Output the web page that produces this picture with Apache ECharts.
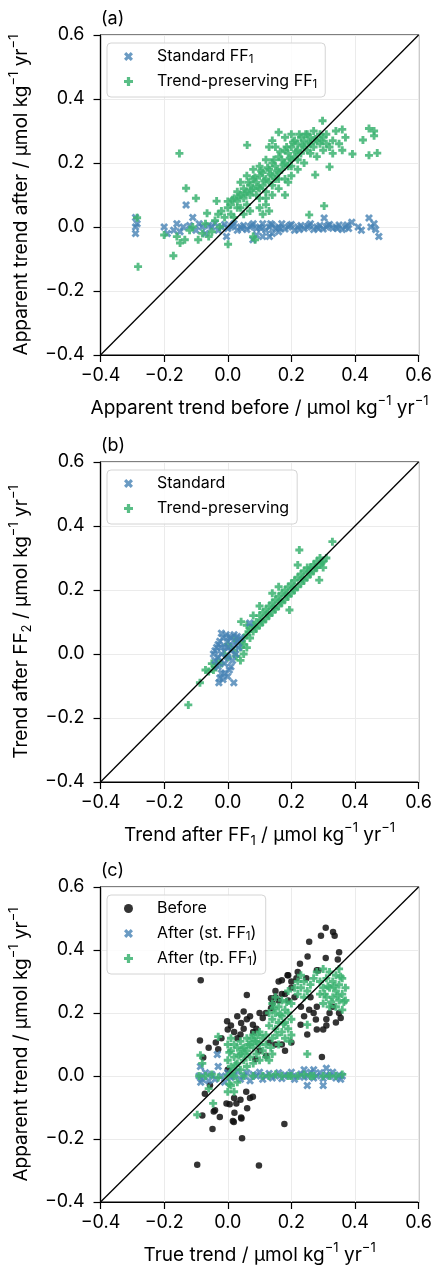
<!DOCTYPE html>
<html>
<head>
<meta charset="utf-8">
<script src="https://cdn.jsdelivr.net/npm/echarts@6/dist/echarts.min.js"></script>
<style>
html, body { margin: 0; padding: 0; background: #fff; }
#chart { width: 435px; height: 1269px; }
</style>
</head>
<body>
<div id="chart"></div>
<script>
// axis ticks shared by every panel
const tickValues = [-0.4, -0.2, 0.0, 0.2, 0.4, 0.6];
const panelLabels = ['(a)', '(b)', '(c)'];
const xNames = [
  'Apparent trend before / μmol kg{sup|−1} yr{sup|−1}',
  'Trend after FF{sub|1} / μmol kg{sup|−1} yr{sup|−1}',
  'True trend / μmol kg{sup|−1} yr{sup|−1}'
];
const yNames = [
  'Apparent trend after / μmol kg{sup|−1} yr{sup|−1}',
  'Trend after FF{sub|2} / μmol kg{sup|−1} yr{sup|−1}',
  'Apparent trend / μmol kg{sup|−1} yr{sup|−1}'
];

// (a) apparent trend before vs after FF1
const aStandard = [
  [-0.29, 0.03], [-0.29, 0.0], [-0.29, -0.02], [-0.285, 0.01],
  [-0.2, 0.0], [-0.19, -0.02], [-0.17, -0.01], [-0.16, 0.01], [-0.15, -0.015], [-0.14, 0.0],
  [-0.131, 0.069], [-0.11, 0.03], [-0.12, 0.005], [-0.1, -0.01], [-0.09, 0.01], [-0.08, 0.0],
  [-0.07, -0.02], [-0.06, 0.005], [-0.05, 0.0], [-0.04, 0.012], [-0.03, -0.01], [-0.02, 0.0],
  [-0.01, 0.008], [0.0, -0.005], [-0.004, -0.03], [0.01, 0.0], [0.02, 0.01], [0.03, -0.01],
  [0.04, 0.0], [0.05, 0.005], [0.06, -0.008], [0.07, 0.0], [0.079, -0.04], [0.08, 0.01],
  [0.09, -0.005], [0.09, -0.025], [0.1, 0.0], [0.11, 0.01], [0.11, -0.03], [0.12, -0.01],
  [0.131, -0.03], [0.13, 0.0], [0.14, 0.006], [0.14, -0.02], [0.15, -0.004], [0.16, 0.0],
  [0.16, -0.015], [0.17, 0.01], [0.18, -0.006], [0.19, 0.0], [0.2, 0.008], [0.21, -0.01],
  [0.22, 0.0], [0.23, 0.005], [0.24, -0.005], [0.25, 0.0], [0.26, 0.01], [0.27, -0.008],
  [0.28, 0.0], [0.29, 0.005], [0.3, -0.006], [0.303, 0.028], [0.31, 0.0], [0.32, 0.008],
  [0.33, -0.004], [0.34, 0.0], [0.35, 0.006], [0.36, -0.008], [0.37, 0.0], [0.38, -0.005],
  [0.39, 0.015], [0.41, 0.0], [0.42, -0.01], [0.444, 0.028], [0.45, 0.0], [0.46, 0.01],
  [0.465, -0.008], [0.475, -0.03], [0.015, 0.005], [0.045, -0.005], [0.075, 0.005],
  [0.105, -0.005], [0.135, 0.01], [0.165, -0.005], [0.195, 0.005], [0.225, -0.008],
  [0.255, 0.005], [0.285, -0.005], [0.315, 0.005], [0.345, -0.005], [0.375, 0.006]
];
const aTrendPreserving = [
  [-0.285, 0.029], [-0.282, -0.124], [-0.2, -0.025], [-0.171, -0.09], [-0.152, 0.23],
  [-0.131, 0.121], [-0.1, 0.09], [-0.15, -0.05], [-0.135, -0.04], [-0.093, -0.04],
  [-0.16, -0.03], [-0.12, -0.01], [-0.11, 0.0], [-0.08, -0.02], [-0.065, 0.043],
  [-0.035, 0.081], [-0.07, 0.01], [-0.06, -0.03], [-0.05, -0.015], [-0.04, 0.02],
  [-0.03, 0.04], [-0.02, 0.05], [-0.025, 0.0], [-0.01, 0.03], [0.001, -0.054], [0.0, 0.06],
  [0.01, 0.04], [0.02, 0.03], [0.03, 0.06], [0.08, -0.03], [0.086, -0.04], [0.256, 0.038],
  [0.303, 0.066], [0.061, 0.256],
  [0.0, 0.08], [0.01, 0.07], [0.02, 0.09], [0.03, 0.08], [0.03, 0.11], [0.04, 0.06],
  [0.04, 0.1], [0.05, 0.09], [0.05, 0.12], [0.06, 0.07], [0.06, 0.11], [0.07, 0.1],
  [0.07, 0.13], [0.08, 0.12], [0.08, 0.15], [0.09, 0.1], [0.09, 0.14], [0.1, 0.12],
  [0.1, 0.16], [0.11, 0.13], [0.11, 0.17], [0.12, 0.11], [0.12, 0.15], [0.13, 0.14],
  [0.13, 0.18], [0.14, 0.16], [0.14, 0.2], [0.15, 0.15], [0.15, 0.19], [0.16, 0.17],
  [0.16, 0.22], [0.17, 0.18], [0.17, 0.21], [0.18, 0.2], [0.18, 0.24], [0.19, 0.19],
  [0.19, 0.23], [0.2, 0.21], [0.2, 0.25], [0.21, 0.22], [0.21, 0.27], [0.22, 0.24],
  [0.22, 0.26], [0.23, 0.23], [0.23, 0.28], [0.24, 0.25], [0.24, 0.27], [0.25, 0.24],
  [0.25, 0.29], [0.26, 0.26], [0.26, 0.28], [0.27, 0.25], [0.27, 0.3], [0.28, 0.27],
  [0.28, 0.22], [0.29, 0.26], [0.29, 0.29], [0.3, 0.24], [0.3, 0.28], [0.31, 0.26],
  [0.32, 0.25], [0.33, 0.27], [0.34, 0.3], [0.298, 0.332], [0.36, 0.305], [0.35, 0.26],
  [0.37, 0.28], [0.16, 0.296], [0.14, 0.27], [0.18, 0.28], [0.2, 0.29], [0.12, 0.21],
  [0.1, 0.19], [0.08, 0.18], [0.06, 0.16], [0.04, 0.14], [0.13, 0.25], [0.15, 0.25],
  [0.275, 0.163], [0.32, 0.188], [0.392, 0.228], [0.425, 0.272], [0.444, 0.308],
  [0.46, 0.3], [0.46, 0.285], [0.47, 0.231], [0.444, 0.224], [0.36, 0.24],
  [0.05, 0.04], [0.07, 0.05], [0.1, 0.06], [0.12, 0.07], [0.14, 0.1], [0.13, 0.05],
  [0.11, 0.04], [0.16, 0.12], [0.18, 0.1], [0.19, 0.14], [0.2, 0.16], [0.22, 0.18], [0.24, 0.2],
  [0.015, 0.085], [0.035, 0.095], [0.055, 0.105], [0.075, 0.115], [0.095, 0.125],
  [0.115, 0.145], [0.135, 0.165], [0.155, 0.175], [0.175, 0.195], [0.195, 0.215],
  [0.215, 0.235], [0.235, 0.255], [0.255, 0.265], [0.275, 0.275], [0.295, 0.27],
  [0.065, 0.14], [0.085, 0.155], [0.105, 0.175], [0.125, 0.185], [0.145, 0.21],
  [0.165, 0.235], [0.185, 0.25], [0.205, 0.265], [0.225, 0.29], [0.245, 0.29],
  [0.1, 0.09], [0.12, 0.09], [0.14, 0.13], [0.16, 0.15], [0.18, 0.15], [0.2, 0.19],
  [0.22, 0.21], [0.26, 0.23], [0.31, 0.29], [0.33, 0.23]
];

// (b) trend after FF1 vs after FF2
const bStandard = [
  [-0.045, 0.0], [-0.04, -0.02], [-0.035, 0.02], [-0.03, 0.03], [-0.03, -0.04], [-0.025, 0.04],
  [-0.02, -0.06], [-0.02, 0.0], [-0.015, 0.05], [-0.01, -0.03], [-0.01, 0.02], [-0.005, 0.06],
  [0.0, -0.01], [0.0, 0.04], [0.005, -0.05], [0.01, 0.01], [0.01, 0.05], [0.015, -0.02],
  [0.02, 0.03], [0.02, 0.06], [0.025, 0.0], [0.03, 0.04], [0.035, 0.02], [-0.028, -0.09],
  [-0.025, -0.075], [-0.015, -0.08], [0.0, -0.07], [0.019, -0.09], [0.069, 0.097],
  [-0.04, 0.01], [-0.03, -0.01], [0.0, 0.02], [-0.02, 0.02], [0.01, -0.04], [-0.01, -0.06],
  [0.005, 0.055], [-0.02, 0.065], [0.03, 0.055], [0.04, 0.05]
];
const bTrendPreserving = [
  [-0.124, -0.159], [-0.0875, -0.09], [-0.07, -0.05], [-0.06, -0.055], [-0.05, -0.03],
  [-0.04, -0.04], [-0.03, -0.02], [-0.02, -0.03], [-0.01, 0.0], [0.0, -0.01], [0.01, 0.02],
  [0.02, 0.01], [0.027, -0.008], [0.03, 0.04], [0.04, 0.02], [0.042, 0.101], [0.05, 0.05],
  [0.05, 0.03], [0.06, 0.06], [0.06, 0.02], [0.07, 0.08], [0.07, 0.05], [0.08, 0.09],
  [0.08, 0.07], [0.09, 0.1], [0.09, 0.08], [0.1, 0.12], [0.1, 0.09], [0.11, 0.13],
  [0.11, 0.1], [0.12, 0.14], [0.12, 0.11], [0.13, 0.15], [0.13, 0.12], [0.14, 0.16],
  [0.14, 0.13], [0.15, 0.17], [0.15, 0.14], [0.16, 0.18], [0.16, 0.15], [0.17, 0.19],
  [0.17, 0.16], [0.18, 0.2], [0.18, 0.17], [0.19, 0.21], [0.19, 0.18], [0.194, 0.1375],
  [0.2, 0.22], [0.2, 0.19], [0.21, 0.23], [0.21, 0.2], [0.22, 0.24], [0.22, 0.21],
  [0.23, 0.25], [0.23, 0.22], [0.24, 0.26], [0.24, 0.23], [0.25, 0.27], [0.25, 0.24],
  [0.26, 0.27], [0.26, 0.25], [0.27, 0.28], [0.27, 0.26], [0.28, 0.29], [0.28, 0.27],
  [0.29, 0.3], [0.29, 0.28], [0.3, 0.29], [0.3, 0.27], [0.31, 0.3], [0.2875, 0.231],
  [0.329, 0.351], [0.225, 0.325], [0.22, 0.278], [0.1, 0.15], [0.08, 0.12], [0.06, 0.09],
  [0.14, 0.19], [0.16, 0.21], [0.02, 0.05], [0.0, 0.03], [0.05, 0.0], [0.04, -0.02],
  [0.105, 0.105], [0.125, 0.125], [0.145, 0.145], [0.165, 0.165], [0.185, 0.185],
  [0.205, 0.205], [0.235, 0.235], [0.255, 0.255], [0.275, 0.27], [0.295, 0.285],
  [0.065, 0.07], [0.085, 0.085], [0.045, 0.04], [-0.045, -0.05], [-0.035, -0.03]
];

// (c) true trend vs apparent trend
const cBefore = [
  [0.308, 0.471], [0.331, 0.457], [0.336, 0.445], [0.293, 0.445], [0.256, 0.426], [0.35, 0.393],
  [0.251, 0.379], [0.227, 0.356], [0.308, 0.375], [0.346, 0.37], [0.188, 0.32], [0.216, 0.31],
  [0.247, 0.31], [0.28, 0.336], [-0.085, 0.304], [0.06, 0.257], [0.2, 0.28], [0.17, 0.304],
  [0.19, 0.32], [0.285, 0.335], [0.136, 0.247], [0.05, 0.205], [-0.002, 0.174], [0.042, 0.168],
  [0.079, 0.163], [0.11, 0.184], [0.136, 0.215], [0.256, 0.21], [0.277, 0.179], [0.31, 0.18],
  [0.355, 0.184], [0.229, 0.163], [0.28, 0.148], [0.3, 0.148], [0.25, 0.132], [0.0, 0.148],
  [0.04, 0.132], [-0.0875, 0.113], [-0.0375, 0.106], [0.131, 0.106], [0.17, 0.1], [0.2, 0.106],
  [-0.03, 0.085], [-0.077, 0.059], [0.121, 0.064], [0.296, 0.06], [0.087, 0.053],
  [-0.056, -0.029], [0.058, -0.05], [0.079, -0.066], [-0.072, -0.056], [0.027, -0.087],
  [-0.004, -0.087], [-0.044, -0.1125], [0.021, -0.117], [0.042, -0.132], [0.016, -0.143],
  [0.178, -0.152], [-0.048, -0.168], [-0.04, -0.109], [-0.08, -0.125], [-0.025, -0.13],
  [0.006, -0.09], [0.061, -0.102], [0.043, -0.135], [0.019, -0.146], [0.045, -0.198],
  [-0.096, -0.282], [0.098, -0.284], [0.07, -0.07], [0.04, -0.075], [0.02, -0.07],
  [0.02, 0.14], [0.06, 0.18], [0.09, 0.15], [0.12, 0.2], [0.15, 0.27], [0.16, 0.3],
  [0.18, 0.26], [0.21, 0.25], [0.23, 0.22], [0.26, 0.25], [0.28, 0.22], [0.32, 0.2],
  [0.34, 0.17], [0.22, 0.33], [0.2, 0.3], [0.1, 0.2], [0.07, 0.19], [0.03, 0.12],
  [-0.02, 0.12], [-0.06, 0.09], [0.0, 0.02], [0.1, 0.08], [0.15, 0.1], [0.18, 0.08],
  [0.15, 0.25], [0.17, 0.26], [0.14, 0.23], [0.16, 0.24], [0.19, 0.24], [0.24, 0.19],
  [0.27, 0.2], [0.33, 0.22], [0.35, 0.2], [0.31, 0.16], [0.05, 0.15], [0.08, 0.14],
  [0.01, 0.16], [0.03, 0.19]
];
const cAfterSt = [
  [-0.09, 0.0], [-0.086, 0.03], [-0.08, -0.01], [-0.07, 0.01], [-0.06, -0.015], [-0.05, 0.005],
  [-0.04, -0.01], [-0.033, 0.068], [-0.03, 0.03], [-0.02, 0.0], [-0.01, -0.02], [0.0, 0.01],
  [0.01, -0.005], [0.02, 0.0], [0.03, 0.015], [0.04, -0.01], [0.05, 0.0], [0.06, 0.01],
  [0.07, -0.015], [0.08, 0.005], [0.09, 0.0], [0.1, 0.012], [0.11, -0.01], [0.12, 0.0],
  [0.13, 0.008], [0.14, -0.006], [0.15, 0.0], [0.16, 0.01], [0.17, -0.008], [0.18, 0.004],
  [0.19, 0.0], [0.2, 0.012], [0.21, -0.01], [0.22, 0.0], [0.23, 0.006], [0.24, -0.004],
  [0.25, 0.0], [0.25, -0.03], [0.26, 0.012], [0.27, -0.006], [0.28, 0.0], [0.29, 0.01],
  [0.3, -0.03], [0.3, -0.008], [0.31, 0.004], [0.32, 0.0], [0.33, 0.012], [0.34, -0.006],
  [0.35, 0.003], [0.36, 0.0], [0.355, -0.01], [-0.085, -0.02], [0.27, 0.02], [0.31, 0.025],
  [0.24, 0.02]
];
const cAfterTp = [
  [-0.09, 0.0], [-0.07, 0.0], [-0.05, 0.005], [-0.03, -0.005], [0.05, 0.0], [0.08, 0.0],
  [0.11, 0.0], [0.13, 0.0], [0.15, 0.005], [0.17, 0.0], [0.2, 0.0], [0.22, 0.0], [0.24, 0.005],
  [0.27, 0.0], [0.3, 0.0], [0.32, 0.0], [0.34, 0.0], [0.36, 0.005], [0.19, 0.0], [0.26, 0.0],
  [-0.086, 0.066], [-0.046, -0.087], [-0.096, -0.123], [0.25, 0.163], [0.25, 0.07],
  [-0.03, 0.125], [0.19, 0.27], [0.02, -0.05], [-0.06, -0.04], [-0.08, 0.04],
  [0.0, -0.05], [0.0, 0.0], [0.0, 0.05], [0.0, 0.1], [0.01, -0.03], [0.01, 0.03], [0.01, 0.08],
  [0.01, 0.12], [0.02, 0.0], [0.02, 0.06], [0.02, 0.1], [0.03, -0.02], [0.03, 0.04],
  [0.03, 0.09], [0.04, 0.02], [0.04, 0.07], [0.04, 0.11], [0.05, 0.05], [0.05, 0.09],
  [0.06, 0.03], [0.06, 0.08], [0.06, 0.12], [0.07, 0.06], [0.07, 0.1], [0.08, 0.04],
  [0.08, 0.09], [0.08, 0.13], [0.09, 0.07], [0.09, 0.11], [0.1, 0.05], [0.1, 0.1],
  [0.1, 0.14], [0.11, 0.08], [0.11, 0.12], [0.12, 0.1],
  [0.005, -0.025], [0.015, 0.015], [0.025, 0.035], [0.035, 0.065], [0.045, 0.085],
  [0.055, 0.07], [0.065, 0.1], [0.075, 0.12], [0.085, 0.11], [0.095, 0.13], [0.005, 0.075],
  [0.12, 0.13], [0.13, 0.16], [0.13, 0.2], [0.14, 0.12], [0.14, 0.18], [0.14, 0.23],
  [0.15, 0.15], [0.15, 0.2], [0.15, 0.25], [0.16, 0.1], [0.16, 0.17], [0.16, 0.22],
  [0.17, 0.14], [0.17, 0.19], [0.17, 0.24], [0.18, 0.12], [0.18, 0.17], [0.18, 0.21],
  [0.19, 0.15], [0.19, 0.2], [0.2, 0.13], [0.2, 0.18], [0.2, 0.23], [0.14, 0.07],
  [0.13, 0.05], [0.12, 0.06], [0.135, 0.09], [0.155, 0.13], [0.175, 0.165], [0.195, 0.11],
  [0.145, 0.215], [0.165, 0.195], [0.185, 0.235],
  [0.21, 0.28], [0.22, 0.3], [0.22, 0.26], [0.23, 0.32], [0.23, 0.28], [0.24, 0.25],
  [0.24, 0.3], [0.25, 0.27], [0.26, 0.29], [0.27, 0.31], [0.28, 0.33], [0.29, 0.3],
  [0.29, 0.26], [0.3, 0.34], [0.3, 0.28], [0.3, 0.23], [0.31, 0.31], [0.31, 0.25],
  [0.32, 0.33], [0.32, 0.28], [0.32, 0.22], [0.33, 0.3], [0.33, 0.25], [0.34, 0.32],
  [0.34, 0.27], [0.34, 0.22], [0.35, 0.29], [0.35, 0.24], [0.36, 0.31], [0.36, 0.26],
  [0.36, 0.21], [0.37, 0.28], [0.37, 0.24], [0.35, 0.34], [0.315, 0.285], [0.345, 0.255],
  [0.355, 0.315], [0.325, 0.235], [0.305, 0.26], [0.335, 0.285], [0.365, 0.235]
];

var chartDom = document.getElementById('chart');
var myChart = echarts.init(chartDom, null, { renderer: 'canvas', devicePixelRatio: 1 });

const FONT = 'Inter, "DejaVu Sans", sans-serif';
const gridTops = [35, 462, 887];
const axisMin = tickValues[0];
const axisMax = tickValues[tickValues.length - 1];

// matplotlib-like filled markers
const crossSymbol = 'path://M0,2.5L2.5,0L5,2.5L7.5,0L10,2.5L7.5,5L10,7.5L7.5,10L5,7.5L2.5,10L0,7.5L2.5,5Z';
const plusSymbol = 'path://M3.2,0H6.8V3.2H10V6.8H6.8V10H3.2V6.8H0V3.2H3.2Z';
const blue = '#4682b4';
const green = '#3cb371';

const nameRich = {
  sup: { fontSize: 13, fontFamily: FONT, color: '#000', verticalAlign: 'top', lineHeight: 26 },
  sub: { fontSize: 13, fontFamily: FONT, color: '#000', verticalAlign: 'bottom', lineHeight: 26 }
};
const nameStyle = { fontSize: 19, fontFamily: FONT, color: '#000', lineHeight: 22, rich: nameRich };
const fmt = v => (Math.abs(v) < 1e-9 ? 0 : v).toFixed(1).replace('-', '−');

function makeAxis(i, isX) {
  return {
    type: 'value',
    gridIndex: i,
    min: axisMin,
    max: axisMax,
    interval: 0.2,
    name: isX ? xNames[i] : yNames[i],
    nameLocation: 'middle',
    nameGap: isX ? 40 : 66,
    nameTextStyle: nameStyle,
    axisLine: { show: true, onZero: false, lineStyle: { color: '#000', width: 1.2 } },
    axisTick: { show: true, length: 7, lineStyle: { color: '#000', width: 1.2 } },
    axisLabel: { margin: isX ? 12 : 16, fontSize: 18, fontFamily: FONT, color: '#000', formatter: fmt },
    splitLine: { show: true, lineStyle: { color: '#ebebeb', width: 1 } }
  };
}

function scatter(name, data, i, kind, z) {
  const s = {
    name: name, type: 'scatter', xAxisIndex: i, yAxisIndex: i, data: data, z: z,
    silent: true, animation: false
  };
  if (kind === 'std') {
    s.symbol = crossSymbol; s.symbolSize = 8;
    s.itemStyle = { color: blue, opacity: 0.8 };
  } else if (kind === 'tp') {
    s.symbol = plusSymbol; s.symbolSize = 8;
    s.itemStyle = { color: green, opacity: 0.85 };
  } else {
    s.symbol = 'circle'; s.symbolSize = 6.5;
    s.itemStyle = { color: '#111', opacity: 0.85 };
  }
  return s;
}

function diagonal(i) {
  return {
    type: 'line', xAxisIndex: i, yAxisIndex: i, z: 10, silent: true, animation: false,
    showSymbol: false, symbol: 'none',
    data: [[axisMin, axisMin], [axisMax, axisMax]],
    lineStyle: { color: '#000', width: 1.3 }
  };
}

const legendNames = [
  ['Standard FF₁', 'Trend-preserving FF₁'],
  ['Standard', 'Trend-preserving'],
  ['Before', 'After (st. FF₁)', 'After (tp. FF₁)']
];

var option;
option = {
  backgroundColor: '#fff',
  animation: false,
  title: panelLabels.map((t, i) => ({
    text: t, left: 101, top: gridTops[i] - 25, padding: 0,
    textStyle: { fontSize: 18, fontWeight: 'normal', fontFamily: FONT, color: '#000' }
  })),
  grid: gridTops.map(t => ({
    left: 100, top: t, width: 320, height: 320,
    show: true, borderColor: '#000', borderWidth: 1.2, backgroundColor: 'transparent'
  })),
  xAxis: [0, 1, 2].map(i => makeAxis(i, true)),
  yAxis: [0, 1, 2].map(i => makeAxis(i, false)),
  legend: legendNames.map((names, i) => ({
    data: names,
    orient: 'vertical',
    left: 107,
    top: gridTops[i] + 8,
    itemWidth: 9,
    itemHeight: 9,
    itemGap: 6,
    padding: [4, 8, 6, 17],
    backgroundColor: 'rgba(255,255,255,0.85)',
    borderColor: '#d4d4d4',
    borderWidth: 1,
    borderRadius: 4,
    z: 20,
    selectedMode: false,
    formatter: n => n.replace('₁', '{sub|1}'),
    textStyle: {
      fontSize: 16, fontFamily: FONT, color: '#000', lineHeight: 19, padding: [0, 0, 0, 19],
      rich: { sub: { fontSize: 11.5, fontFamily: FONT, color: '#000', verticalAlign: 'bottom', lineHeight: 19 } }
    }
  })),
  series: [
    scatter('Standard FF₁', aStandard, 0, 'std', 2),
    scatter('Trend-preserving FF₁', aTrendPreserving, 0, 'tp', 3),
    diagonal(0),
    scatter('Trend-preserving', bTrendPreserving, 1, 'tp', 2),
    scatter('Standard', bStandard, 1, 'std', 3),
    diagonal(1),
    scatter('Before', cBefore, 2, 'dot', 2),
    scatter('After (st. FF₁)', cAfterSt, 2, 'std', 3),
    scatter('After (tp. FF₁)', cAfterTp, 2, 'tp', 4),
    diagonal(2)
  ]
};

option && myChart.setOption(option);
</script>
</body>
</html>
